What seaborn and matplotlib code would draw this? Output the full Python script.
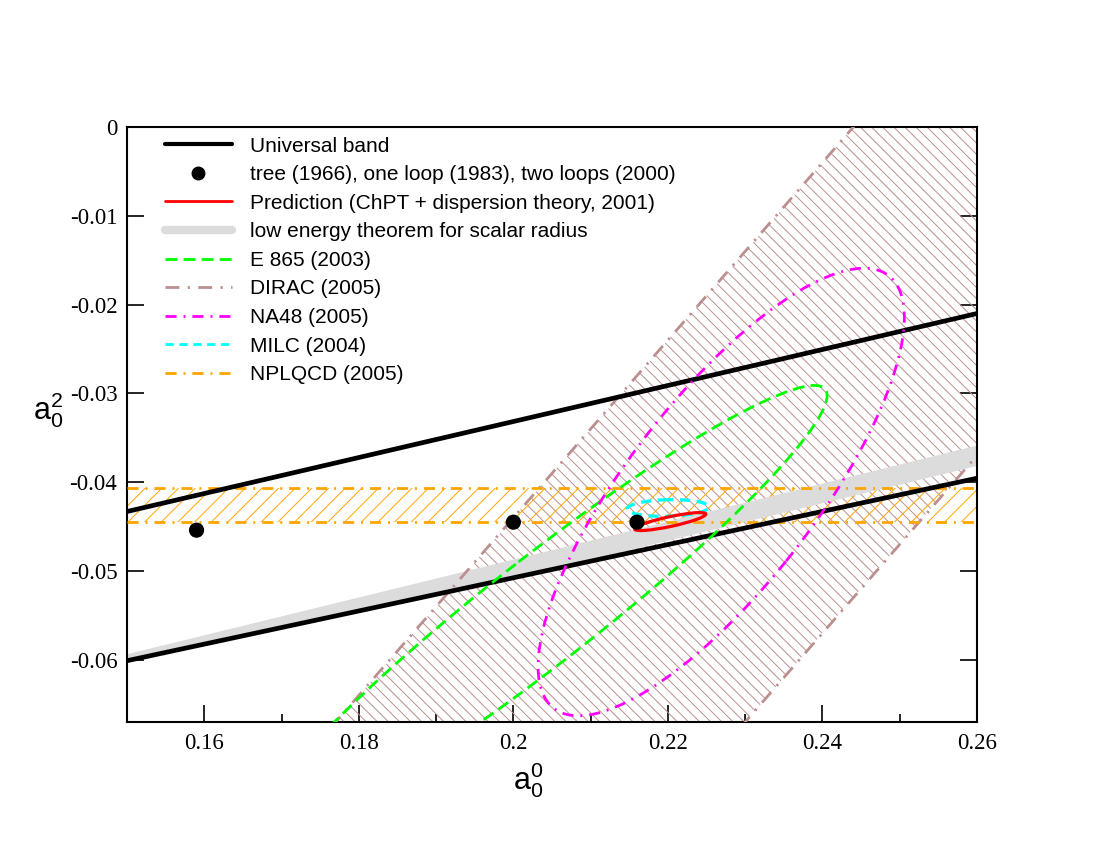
import numpy as np
import matplotlib
matplotlib.use('Agg')
import matplotlib.pyplot as plt
from matplotlib.patches import Ellipse
from matplotlib.lines import Line2D
import seaborn as sns

# axes
x_range = [0.15, 0.26]
y_range = [-0.067, 0.0]
xticks = [0.16, 0.18, 0.20, 0.22, 0.24, 0.26]
xtick_labels = ['0.16', '0.18', '0.2', '0.22', '0.24', '0.26']
xminor = [0.17, 0.19, 0.21, 0.23, 0.25]
yticks = [0.0, -0.01, -0.02, -0.03, -0.04, -0.05, -0.06]
ytick_labels = ['0', '-0.01', '-0.02', '-0.03', '-0.04', '-0.05', '-0.06']

# universal band (edges)
band_x = [0.15, 0.26]
band_upper = [-0.0433, -0.0210]
band_lower = [-0.0601, -0.03955]

# low energy theorem for scalar radius
scalar_x = [0.15, 0.2082, 0.26]
scalar_hi = [-0.0593, -0.0469, -0.0358]
scalar_lo = [-0.0598, -0.0490, -0.0381]

# tree (1966), one loop (1983), two loops (2000)
chpt_a00 = [0.159, 0.200, 0.216]
chpt_a02 = [-0.0454, -0.0445, -0.0445]

# DIRAC: |a0^0 - a0^2| = 0.264 +0.033 -0.020
dirac_diff = 0.264
dirac_err_up = 0.033
dirac_err_dn = 0.020

# NPLQCD: a0^2 band
nplqcd_lo = -0.0445
nplqcd_hi = -0.0407

# error ellipses: centre a0^0, centre a0^2, sigma a0^0, sigma a0^2, correlation
pred_ell = [0.2203, -0.04443, 0.0046, 0.00101, 0.83]
milc_ell = [0.2200, -0.0429, 0.0053, 0.00094, 0.12]
e865_ell = [0.2038, -0.0544, 0.0368, 0.0253, 0.955]
na48_ell = [0.2269, -0.0411, 0.0237, 0.0252, 0.78]

GREEN = '#00ff00'
BROWN = '#bc8f8f'
MAGENTA = '#ff00ff'
CYAN = '#00ffff'
ORANGE = '#ffa500'
GRAY = '#dcdcdc'

ls_e865 = (0, (4.3, 2.2))
ls_dirac = (0, (5, 3, 0.8, 3))
ls_na48 = (0, (4, 2.5, 0.7, 2.5))
ls_milc = (0, (3, 2))
ls_nplqcd = (0, (4, 2.5, 0.7, 2.5))

sns.set_theme(style='ticks')
plt.rcParams['font.family'] = ['Liberation Sans', 'DejaVu Sans']
plt.rcParams['axes.unicode_minus'] = False
plt.rcParams['hatch.linewidth'] = 0.7
plt.rcParams['text.color'] = 'black'
plt.rcParams['axes.labelcolor'] = 'black'


def cov_ellipse(ax, e, **kw):
    cx, cy, sx, sy, rho = e
    cov = np.array([[sx * sx, rho * sx * sy], [rho * sx * sy, sy * sy]])
    vals, vecs = np.linalg.eigh(cov)
    ang = np.degrees(np.arctan2(vecs[1, 1], vecs[0, 1]))
    ell = Ellipse((cx, cy), 2 * np.sqrt(vals[1]), 2 * np.sqrt(vals[0]),
                  angle=ang, fill=False, **kw)
    ax.add_patch(ell)


fig = plt.figure(figsize=(11, 8.5), dpi=100)
ax = fig.add_axes([0.11545, 0.15059, 0.77273, 0.70])

# DIRAC hatched band
dx = np.array(x_range)
d_lo = dx - (dirac_diff + dirac_err_up)
d_hi = dx - (dirac_diff - dirac_err_dn)
plt.rcParams['hatch.color'] = BROWN
ax.fill_between(dx, d_lo, d_hi, facecolor='none', edgecolor=BROWN,
                hatch='\\\\\\', linewidth=0, zorder=1)

# NPLQCD hatched band
plt.rcParams['hatch.color'] = ORANGE
ax.fill_between(dx, [nplqcd_lo] * 2, [nplqcd_hi] * 2, facecolor='none',
                edgecolor=ORANGE, hatch='//', linewidth=0, zorder=1.5)

# scalar radius band
ax.fill_between(scalar_x, scalar_lo, scalar_hi, color=GRAY, linewidth=0, zorder=2)

# band edges
for yy in (d_lo, d_hi):
    sns.lineplot(x=dx, y=yy, color=BROWN, linewidth=2, linestyle=ls_dirac,
                 ax=ax, zorder=3)
for yy in (nplqcd_lo, nplqcd_hi):
    sns.lineplot(x=dx, y=[yy] * 2, color=ORANGE, linewidth=2,
                 linestyle=ls_nplqcd, ax=ax, zorder=3)

# universal band
sns.lineplot(x=band_x, y=band_upper, color='black', linewidth=3.4, ax=ax, zorder=4)
sns.lineplot(x=band_x, y=band_lower, color='black', linewidth=3.4, ax=ax, zorder=4)

# ellipses
cov_ellipse(ax, e865_ell, edgecolor=GREEN, linewidth=2, linestyle=ls_e865, zorder=5)
cov_ellipse(ax, na48_ell, edgecolor=MAGENTA, linewidth=2, linestyle=ls_na48, zorder=5)
cov_ellipse(ax, milc_ell, edgecolor=CYAN, linewidth=2.4, linestyle=ls_milc, zorder=6)
cov_ellipse(ax, pred_ell, edgecolor='red', linewidth=2.3, zorder=7)

sns.scatterplot(x=chpt_a00, y=chpt_a02, color='black', s=120, edgecolor='none',
                ax=ax, zorder=8)

ax.set_xlim(x_range)
ax.set_ylim(y_range)
ax.set_xticks(xticks)
ax.set_xticklabels(xtick_labels)
ax.set_xticks(xminor, minor=True)
ax.set_yticks(yticks)
ax.set_yticklabels(ytick_labels)
ax.tick_params(axis='both', which='major', direction='in', length=12, width=1.2,
               labelsize=16.5, colors='black')
ax.tick_params(axis='x', which='minor', direction='in', length=6, width=1.2,
               colors='black')
ax.tick_params(axis='x', pad=8)
ax.tick_params(axis='y', pad=7, right=True)
for lab in ax.get_xticklabels() + ax.get_yticklabels():
    lab.set_family('Liberation Serif')
for sp in ax.spines.values():
    sp.set_linewidth(1.5)
    sp.set_color('black')

ax.set_xlabel(r'$\mathregular{a_0^0}$', fontsize=22, va='center')
ax.xaxis.set_label_coords(0.472, -0.0975)
ax.set_ylabel(r'$\mathregular{a_0^2}$', fontsize=22, rotation=0, ha='center', va='center')
ax.yaxis.set_label_coords(-0.093, 0.525)

handles = [
    Line2D([], [], color='black', lw=3),
    Line2D([], [], color='black', marker='o', ls='none', markersize=9),
    Line2D([], [], color='red', lw=2),
    Line2D([], [], color=GRAY, lw=6),
    Line2D([], [], color=GREEN, lw=2, ls=ls_e865),
    Line2D([], [], color=BROWN, lw=2, ls=ls_dirac),
    Line2D([], [], color=MAGENTA, lw=2, ls=ls_na48),
    Line2D([], [], color=CYAN, lw=2, ls=ls_milc),
    Line2D([], [], color=ORANGE, lw=2, ls=ls_nplqcd),
]
labels = [
    'Universal band',
    'tree (1966), one loop (1983), two loops (2000)',
    'Prediction (ChPT + dispersion theory, 2001)',
    'low energy theorem for scalar radius',
    'E 865 (2003)',
    'DIRAC (2005)',
    'NA48 (2005)',
    'MILC (2004)',
    'NPLQCD (2005)',
]
leg = ax.legend(handles, labels, loc='upper left', bbox_to_anchor=(0.0447, 0.984),
                frameon=False, fontsize=15, handlelength=3.2, handletextpad=0.9,
                labelspacing=0.46, borderpad=0, borderaxespad=0)
for t in leg.get_texts():
    t.set_color('black')

fig.savefig('out.png', dpi=100)
